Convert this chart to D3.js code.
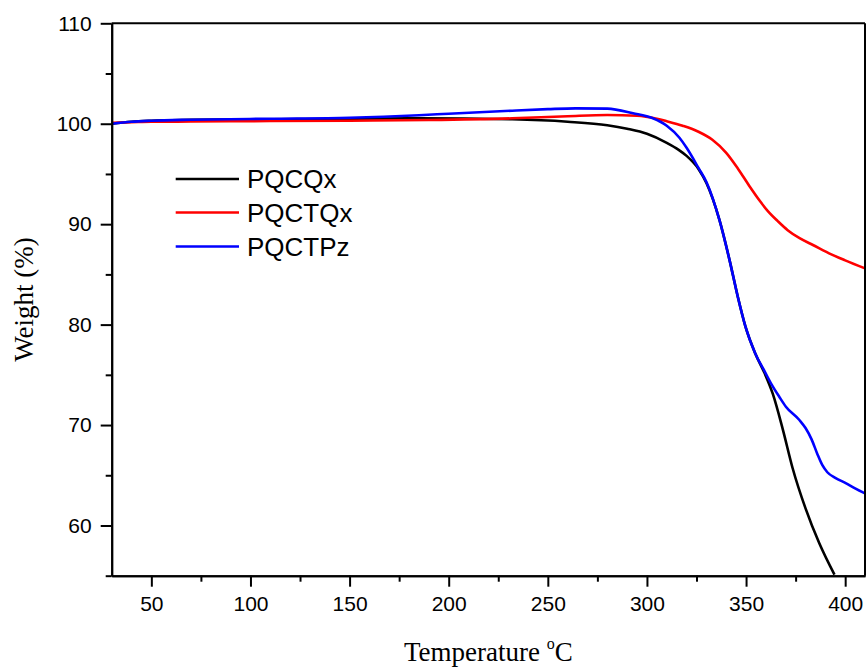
<!DOCTYPE html>
<html>
<head>
<meta charset="utf-8">
<script src="https://cdn.jsdelivr.net/npm/d3@7"></script>
<style>
  html, body { margin: 0; padding: 0; background: #ffffff; }
  svg { display: block; }
</style>
</head>
<body>
<svg id="chart" width="866" height="667"></svg>
<script>
// ---- data ----
const seriesNames = ["PQCQx", "PQCTQx", "PQCTPz"];
const seriesColors = ["#000000", "#ff0000", "#0000ff"];

const tempPQCQx = [30, 40, 50, 70, 110, 150, 185, 232, 260, 280, 290, 300, 310, 316, 320, 326, 330, 336.6, 341.7, 345.8, 349.7, 354.7, 359.5, 363.5, 368.5, 373.5, 380, 387, 394.6];
const weightPQCQx = [100.0, 100.2, 100.3, 100.38, 100.45, 100.5, 100.54, 100.44, 100.2, 99.85, 99.5, 99.0, 98.1, 97.4, 96.8, 95.5, 94.1, 90.4, 86.4, 82.8, 79.8, 77.1, 75.1, 73.1, 69.6, 65.7, 61.7, 58.2, 55.1];

const tempPQCTQx = [30, 40, 50, 70, 110, 150, 190, 232, 260, 280, 295, 305, 310, 318, 326, 333, 340, 346, 352, 357, 361, 366, 371, 377, 384, 393, 400, 410];
const weightPQCTQx = [100.1, 100.15, 100.2, 100.22, 100.27, 100.3, 100.37, 100.54, 100.75, 100.87, 100.8, 100.5, 100.25, 99.8, 99.2, 98.4, 97.1, 95.5, 93.7, 92.3, 91.3, 90.3, 89.4, 88.6, 87.9, 87.0, 86.4, 85.6];

const tempPQCTPz = [30, 40, 50, 70, 110, 150, 185, 200, 232, 250, 264, 280, 293, 303, 310, 316.4, 320, 326, 330, 336.6, 341.7, 345.8, 349.7, 354.7, 359.5, 363, 366.8, 370.2, 376.9, 380, 383, 386, 388.5, 391, 395, 400.5, 405, 410];
const weightPQCTPz = [100.0, 100.2, 100.3, 100.4, 100.5, 100.6, 100.85, 101.0, 101.3, 101.45, 101.53, 101.5, 101.04, 100.54, 99.8, 98.6, 97.6, 95.6, 94.2, 90.4, 86.4, 82.8, 79.8, 77.1, 75.3, 74.0, 72.8, 71.8, 70.5, 69.7, 68.6, 67.1, 66.0, 65.3, 64.75, 64.2, 63.7, 63.2];

const xMajorTicks = [50, 100, 150, 200, 250, 300, 350, 400];
const xMinorTicks = [75, 125, 175, 225, 275, 325, 375];
const yMajorTicks = [60, 70, 80, 90, 100, 110];
const yMinorTicks = [55, 65, 75, 85, 95, 105];

const xTitle = "Temperature ";
const yTitle = "Weight (%)";

// ---- layout ----
const svg = d3.select("#chart");
const plotL = 111.7, plotT = 23.3, plotR = 865, plotB = 575.7;

const x = d3.scaleLinear().domain([30, 410]).range([plotL, plotR]);
const y = d3.scaleLinear().domain([55, 110]).range([plotB, plotT]);

svg.append("defs").append("clipPath").attr("id", "plotclip")
  .append("rect").attr("x", plotL).attr("y", plotT)
  .attr("width", plotR - plotL).attr("height", plotB - plotT);

const series = [
  { name: seriesNames[0], color: seriesColors[0], t: tempPQCQx, w: weightPQCQx },
  { name: seriesNames[1], color: seriesColors[1], t: tempPQCTQx, w: weightPQCTQx },
  { name: seriesNames[2], color: seriesColors[2], t: tempPQCTPz, w: weightPQCTPz }
];

const line = d3.line()
  .x(d => x(d[0]))
  .y(d => y(d[1]))
  .curve(d3.curveMonotoneX);

const gLines = svg.append("g").attr("clip-path", "url(#plotclip)");
series.forEach(s => {
  gLines.append("path")
    .datum(s.t.map((t, i) => [t, s.w[i]]))
    .attr("fill", "none")
    .attr("stroke", s.color)
    .attr("stroke-width", 2.6)
    .attr("stroke-linejoin", "round")
    .attr("d", line);
});

// ---- axes ----
function styleAxis(g) {
  g.selectAll("path, line").attr("stroke", "#000").attr("stroke-width", 2);
  g.selectAll("text")
    .attr("fill", "#000")
    .style("font-family", "Arial, 'Liberation Sans', sans-serif")
    .style("font-size", "21px");
}

svg.append("g").attr("transform", `translate(0,${plotB})`)
  .call(d3.axisBottom(x).tickValues(xMajorTicks).tickSize(11).tickSizeOuter(0).tickPadding(9).tickFormat(d3.format("d")))
  .call(styleAxis);
svg.append("g").attr("transform", `translate(0,${plotB})`)
  .call(d3.axisBottom(x).tickValues(xMinorTicks).tickSize(6).tickSizeOuter(0).tickFormat(""))
  .call(styleAxis);

svg.append("g").attr("transform", `translate(${plotL},0)`)
  .call(d3.axisLeft(y).tickValues(yMajorTicks).tickSize(11).tickSizeOuter(0).tickPadding(9).tickFormat(d3.format("d")))
  .call(styleAxis);
svg.append("g").attr("transform", `translate(${plotL},0)`)
  .call(d3.axisLeft(y).tickValues(yMinorTicks).tickSize(6).tickSizeOuter(0).tickFormat(""))
  .call(styleAxis);

// top and right frame
svg.append("line").attr("x1", plotL).attr("x2", plotR).attr("y1", plotT).attr("y2", plotT)
  .attr("stroke", "#000").attr("stroke-width", 2);
svg.append("line").attr("x1", plotR).attr("x2", plotR).attr("y1", plotT).attr("y2", plotB)
  .attr("stroke", "#000").attr("stroke-width", 2);

// ---- titles ----
const xt = svg.append("text")
  .attr("x", (plotL + plotR) / 2)
  .attr("y", 661)
  .attr("text-anchor", "middle")
  .style("font-family", "'Times New Roman', 'Liberation Serif', serif")
  .style("font-size", "27px")
  .attr("fill", "#000");
xt.append("tspan").text(xTitle);
xt.append("tspan").attr("dy", -12).style("font-size", "16px").text("o");
xt.append("tspan").attr("dy", 12).text("C");

svg.append("text")
  .attr("transform", `translate(33,${(plotT + plotB) / 2}) rotate(-90)`)
  .attr("text-anchor", "middle")
  .style("font-family", "'Times New Roman', 'Liberation Serif', serif")
  .style("font-size", "27px")
  .attr("fill", "#000")
  .text(yTitle);

// ---- legend ----
const legendY = [179, 212.5, 246.5];
const lg = svg.append("g");
series.forEach((s, i) => {
  lg.append("line")
    .attr("x1", 175.7).attr("x2", 239)
    .attr("y1", legendY[i]).attr("y2", legendY[i])
    .attr("stroke", s.color).attr("stroke-width", 2.6);
  lg.append("text")
    .attr("x", 247).attr("y", legendY[i])
    .attr("dy", "0.36em")
    .style("font-family", "Arial, 'Liberation Sans', sans-serif")
    .style("font-size", "26px")
    .attr("fill", "#000")
    .text(s.name);
});
</script>
</body>
</html>
